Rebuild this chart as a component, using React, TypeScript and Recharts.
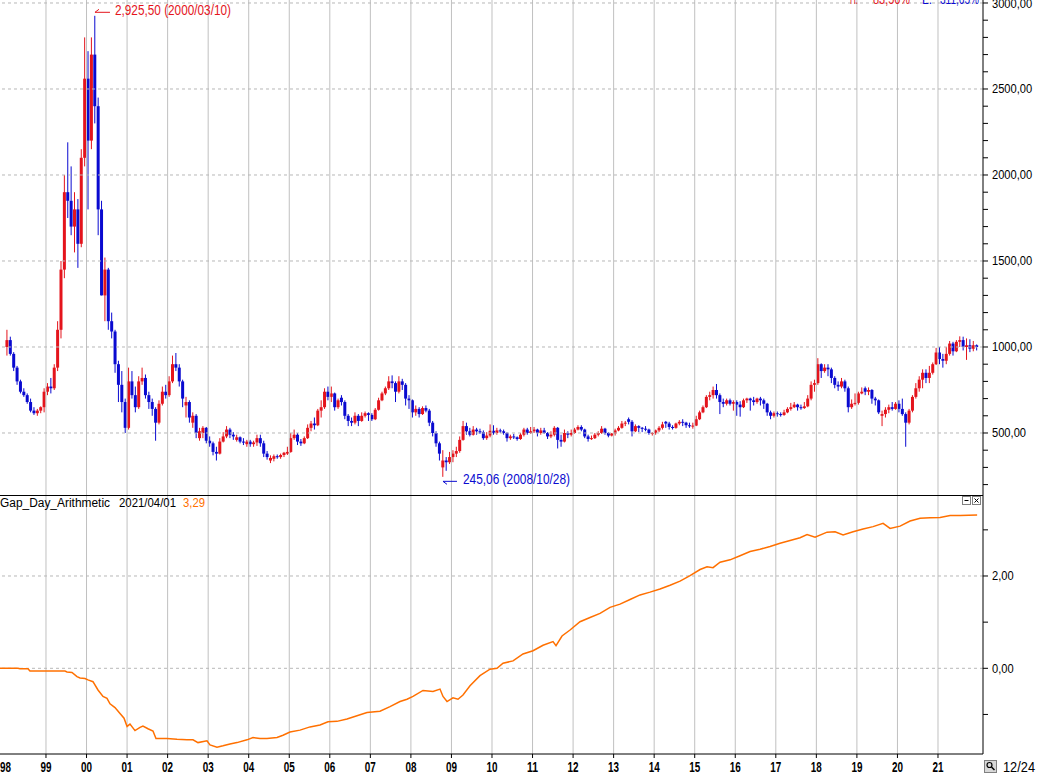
import React from "react";
import {
  ComposedChart,
  Bar,
  XAxis,
  YAxis,
  ReferenceLine,
  ReferenceDot,
  LineChart,
  Line,
} from "recharts";

// monthly candles, Jan 1998 .. Dec 2021
const START_YEAR = 1998;

const opens = [
  1000, 1040, 960, 880, 800, 740, 720, 680, 630, 615, 630, 650,
  740, 770, 760, 880, 1100, 1450, 1900, 1850, 1700, 1800, 1600, 2100,
  2560, 2200, 2700, 2400, 1800, 1300, 1450, 1150, 1090, 900, 780, 680,
  530, 800, 720, 650, 800, 820, 720, 680, 640, 560, 670, 740,
  720, 800, 900, 880, 800, 660, 680, 560, 600, 470, 500, 530,
  455, 440, 390, 380, 450, 480, 520, 490, 460, 475, 450, 435,
  450, 435, 445, 470, 440, 380, 340, 350, 365, 360, 372, 380,
  390, 470, 490, 450, 440, 470, 530, 555, 545, 630, 650, 740,
  710, 730, 650, 705, 680, 600, 570, 560, 600, 570, 600, 615,
  605, 580, 635, 690, 730, 760, 800, 790, 740, 800, 780, 700,
  690, 620, 640, 610, 645, 630, 560, 500, 440, 300, 340, 330,
  360, 380, 395, 460, 540, 510, 490, 520, 510, 505, 470, 485,
  513, 500, 515, 510, 500, 470, 480, 475, 465, 490, 520, 500,
  510, 520, 500, 515, 500, 480, 490, 530, 460, 450, 500, 490,
  500, 520, 535, 520, 480, 465, 470, 490, 500, 525, 500, 485,
  497, 515, 530, 555, 580, 565, 510, 540, 530, 525, 520, 495,
  500, 515, 530, 565, 555, 535, 530, 555, 565, 560, 545, 540,
  543, 580, 620, 650, 710, 720, 750, 720, 680, 670, 690, 670,
  680, 665, 650, 690, 700, 690, 680, 700, 690, 670, 620, 600,
  615, 610, 605, 620, 640, 650, 665, 650, 645, 655, 700, 780,
  790, 900, 860, 880, 870, 820, 780, 770, 800, 760, 650, 670,
  675, 730, 760, 740, 750, 700, 690, 600, 610, 635, 650, 640,
  670, 640, 610, 560, 630, 710, 760, 810, 850, 820, 850, 900,
  968, 930, 920, 960, 1020, 975, 1030, 1040, 1000, 1010, 990, 1010,
];

const highs = [
  1100, 1060, 970, 890, 810, 760, 730, 700, 650, 640, 655, 760,
  790, 820, 900, 1150, 1500, 2000, 2190, 2050, 1900, 1860, 2150, 2800,
  2720, 2800, 2925.5, 2450, 1850, 1520, 1460, 1200, 1100, 920, 860, 700,
  880, 860, 770, 830, 880, 840, 740, 700, 650, 690, 770, 780,
  830, 950, 965, 900, 810, 710, 690, 620, 610, 530, 540, 535,
  480, 450, 420, 470, 505, 540, 530, 505, 490, 480, 470, 460,
  460, 455, 490, 490, 455, 395, 370, 375, 375, 380, 390, 420,
  500, 520, 500, 465, 480, 550, 570, 590, 640, 690, 760, 770,
  770, 735, 700, 720, 690, 610, 590, 620, 610, 620, 625, 620,
  615, 645, 705, 740, 770, 830, 835, 800, 830, 815, 790, 720,
  695, 660, 650, 655, 660, 640, 570, 510, 450, 400, 360, 390,
  400, 420, 480, 570, 560, 530, 540, 530, 525, 515, 505, 550,
  545, 530, 525, 520, 505, 490, 495, 480, 500, 530, 530, 535,
  535, 525, 530, 530, 505, 510, 540, 535, 490, 520, 510, 520,
  530, 545, 545, 525, 490, 485, 500, 510, 540, 530, 505, 500,
  525, 540, 570, 570, 590, 575, 550, 545, 535, 540, 525, 505,
  520, 540, 565, 570, 565, 545, 560, 575, 580, 565, 560, 560,
  600, 630, 660, 720, 740, 770, 785, 730, 700, 700, 700, 690,
  690, 685, 700, 705, 705, 710, 705, 710, 700, 675, 630, 625,
  625, 620, 635, 650, 675, 680, 670, 665, 680, 720, 800, 810,
  935, 905, 900, 900, 880, 830, 800, 820, 810, 770, 695, 730,
  740, 765, 770, 765, 755, 710, 695, 630, 650, 665, 680, 680,
  690, 700, 620, 640, 720, 790, 830, 870, 870, 890, 910, 995,
  1000, 960, 1000, 1035, 1030, 1040, 1062, 1060, 1050, 1045, 1035, 1015,
];

const lows = [
  950, 950, 860, 780, 730, 710, 670, 620, 605, 600, 615, 620,
  720, 730, 750, 860, 1050, 1400, 1750, 1650, 1550, 1460, 1580, 2050,
  1800, 2150, 2300, 1650, 1300, 1150, 1100, 1050, 850, 680, 620, 500,
  520, 700, 620, 640, 780, 700, 640, 600, 455, 550, 660, 700,
  710, 790, 860, 770, 650, 590, 560, 530, 470, 455, 470, 440,
  420, 370, 340, 375, 445, 470, 470, 460, 450, 440, 430, 420,
  420, 420, 425, 420, 360, 345, 325, 335, 350, 350, 360, 372,
  385, 460, 430, 425, 435, 465, 510, 520, 540, 590, 640, 690,
  680, 630, 640, 660, 580, 540, 540, 550, 540, 565, 590, 570,
  570, 575, 630, 685, 720, 750, 760, 680, 730, 750, 660, 640,
  590, 600, 590, 605, 620, 540, 480, 420, 340, 245.06, 280, 320,
  330, 360, 385, 455, 490, 480, 485, 490, 495, 460, 460, 475,
  490, 490, 500, 490, 450, 460, 465, 455, 460, 480, 490, 495,
  500, 480, 490, 495, 465, 470, 480, 410, 420, 445, 470, 480,
  495, 515, 510, 470, 450, 460, 465, 480, 495, 490, 475, 480,
  485, 510, 525, 540, 550, 480, 505, 505, 505, 510, 490, 485,
  490, 505, 520, 530, 520, 520, 525, 545, 540, 530, 530, 525,
  540, 575, 615, 645, 690, 700, 700, 610, 650, 660, 660, 630,
  600, 595, 645, 675, 630, 660, 670, 660, 640, 600, 580, 590,
  595, 595, 600, 615, 630, 645, 630, 635, 640, 650, 690, 740,
  780, 820, 850, 830, 790, 760, 745, 760, 740, 620, 640, 660,
  665, 725, 720, 720, 670, 660, 610, 540, 590, 615, 630, 635,
  620, 600, 420, 550, 620, 700, 740, 760, 790, 790, 840, 895,
  900, 880, 900, 950, 950, 970, 1000, 980, 925, 970, 975, 980,
];

const closes = [
  1040, 960, 880, 800, 740, 720, 680, 630, 615, 630, 650, 740,
  770, 760, 880, 1100, 1450, 1900, 1850, 1700, 1800, 1600, 2100, 2560,
  2200, 2700, 2400, 1800, 1300, 1450, 1150, 1090, 900, 780, 680, 530,
  800, 720, 650, 800, 820, 720, 680, 640, 560, 670, 740, 720,
  800, 900, 880, 800, 700, 680, 590, 600, 500, 510, 530, 455,
  440, 390, 380, 450, 480, 520, 490, 480, 475, 450, 445, 450,
  435, 445, 470, 440, 380, 360, 355, 365, 360, 372, 385, 390,
  470, 490, 450, 440, 470, 530, 555, 545, 630, 650, 740, 710,
  730, 650, 690, 680, 600, 570, 560, 600, 570, 600, 615, 605,
  580, 635, 690, 730, 760, 800, 790, 740, 800, 780, 700, 690,
  620, 640, 610, 645, 630, 560, 500, 440, 380, 340, 330, 360,
  380, 395, 460, 540, 510, 490, 520, 510, 505, 470, 485, 513,
  500, 515, 510, 500, 470, 480, 475, 465, 490, 520, 500, 510,
  520, 500, 515, 500, 480, 490, 530, 460, 450, 500, 490, 500,
  520, 535, 520, 480, 465, 470, 490, 500, 525, 500, 485, 497,
  515, 530, 555, 560, 565, 510, 540, 530, 525, 520, 500, 500,
  515, 530, 550, 555, 535, 530, 555, 565, 560, 545, 540, 543,
  580, 620, 650, 710, 720, 750, 720, 680, 670, 690, 670, 680,
  665, 650, 690, 700, 690, 680, 700, 690, 670, 620, 600, 615,
  610, 605, 620, 640, 650, 665, 650, 645, 655, 700, 780, 790,
  900, 860, 880, 870, 820, 780, 770, 800, 760, 650, 670, 675,
  730, 740, 740, 750, 700, 690, 620, 610, 635, 650, 640, 670,
  640, 610, 560, 630, 710, 760, 810, 850, 820, 850, 900, 968,
  930, 920, 960, 1020, 975, 1030, 1040, 1000, 1010, 990, 1010, 1000,
];

// Gap_Day_Arithmetic indicator (decimal year, value)
const gapDates = [
  1997.866, 1998.31, 1998.359, 1998.556, 1998.605, 1998.975, 1999.469, 1999.518, 1999.641, 1999.765,
  1999.839, 1999.962, 2000.036, 2000.159, 2000.283, 2000.406, 2000.505, 2000.579, 2000.702, 2000.826,
  2000.925, 2001.0, 2001.072, 2001.195, 2001.319, 2001.392, 2001.516, 2001.639, 2001.713, 2001.984,
  2002.231, 2002.478, 2002.626, 2002.749, 2002.971, 2003.045, 2003.218, 2003.366, 2003.538, 2003.711,
  2003.958, 2004.106, 2004.278, 2004.451, 2004.698, 2004.846, 2005.018, 2005.265, 2005.512, 2005.759,
  2005.955, 2006.177, 2006.424, 2006.671, 2006.918, 2007.238, 2007.485, 2007.732, 2007.904, 2008.052,
  2008.299, 2008.545, 2008.718, 2008.792, 2008.891, 2009.038, 2009.162, 2009.285, 2009.458, 2009.704,
  2009.951, 2010.124, 2010.272, 2010.519, 2010.765, 2011.012, 2011.259, 2011.505, 2011.579, 2011.727,
  2011.925, 2012.171, 2012.418, 2012.665, 2012.911, 2013.158, 2013.405, 2013.652, 2013.898, 2014.145,
  2014.392, 2014.638, 2014.885, 2015.132, 2015.304, 2015.452, 2015.625, 2015.872, 2016.118, 2016.365,
  2016.612, 2016.858, 2017.105, 2017.352, 2017.598, 2017.771, 2017.968, 2018.264, 2018.461, 2018.659,
  2018.906, 2019.152, 2019.399, 2019.646, 2019.818, 2020.065, 2020.312, 2020.559, 2020.805, 2021.052,
  2021.299, 2021.546, 2021.965,
];

const gapValues = [
  0, 0, -0.01, -0.01, -0.06, -0.06, -0.06, -0.08, -0.09, -0.18,
  -0.21, -0.22, -0.25, -0.29, -0.47, -0.61, -0.65, -0.77, -0.85, -0.98,
  -1.08, -1.26, -1.21, -1.35, -1.28, -1.25, -1.31, -1.36, -1.52, -1.52,
  -1.54, -1.55, -1.55, -1.61, -1.57, -1.66, -1.71, -1.68, -1.64, -1.61,
  -1.55, -1.5, -1.52, -1.52, -1.5, -1.45, -1.38, -1.34, -1.27, -1.23,
  -1.16, -1.15, -1.1, -1.03, -0.96, -0.93, -0.83, -0.72, -0.67, -0.61,
  -0.48, -0.5, -0.45, -0.61, -0.72, -0.64, -0.67, -0.58, -0.38, -0.16,
  -0.02, 0.0, 0.11, 0.16, 0.31, 0.38, 0.5, 0.58, 0.49, 0.7,
  0.83, 1.01, 1.1, 1.19, 1.32, 1.39, 1.49, 1.59, 1.65, 1.72,
  1.8, 1.89, 2.01, 2.14, 2.2, 2.18, 2.3, 2.35, 2.44, 2.53,
  2.58, 2.64, 2.71, 2.77, 2.83, 2.9, 2.84, 2.95, 2.96, 2.89,
  2.96, 3.02, 3.07, 3.14, 3.03, 3.08, 3.19, 3.25, 3.26, 3.27,
  3.31, 3.31, 3.32,
];

const yearTicks = [
  1998, 1999, 2000, 2001, 2002, 2003, 2004, 2005, 2006, 2007, 2008, 2009,
  2010, 2011, 2012, 2013, 2014, 2015, 2016, 2017, 2018, 2019, 2020, 2021,
];
const priceTicks = [
  200, 300, 400, 500, 600, 700, 800, 900, 1000, 1100, 1200, 1300, 1400, 1500,
  1600, 1700, 1800, 1900, 2000, 2100, 2200, 2300, 2400, 2500, 2600, 2700, 2800, 2900, 3000,
];
const priceLabels = [500, 1000, 1500, 2000, 2500, 3000];
const gapTicks = [-1, 0, 1, 2, 3];
const gapLabels = [0, 2];

const RED = "#e4141c";
const BLUE = "#0a0ad0";
const ORANGE = "#ff7000";
const GRID = "#c0c0c0";
const DASH = "#b8b8b8";
const FONT = "'Liberation Sans', Arial, sans-serif";

const X_DOMAIN: [number, number] = [1997.866, 2022.11];

const candles = opens.map((o, i) => ({
  t: START_YEAR + (i + 0.5) / 12,
  o,
  h: highs[i],
  l: lows[i],
  c: closes[i],
  range: [lows[i], highs[i]],
}));

const gapData = gapDates.map((t, i) => ({ t, v: gapValues[i] }));

let peakIdx = 0;
let lowIdx = 0;
highs.forEach((h, i) => {
  if (h > highs[peakIdx]) peakIdx = i;
});
lows.forEach((l, i) => {
  if (l < lows[lowIdx]) lowIdx = i;
});

const fmt = (v: number) => v.toFixed(2).replace(".", ",");
const labelLen = (s: string) => {
  let w = 0;
  for (const ch of s) w += ch === "," ? 3 : 6.2;
  return w;
};

function Candle(props: any) {
  const { x, y, width, height } = props;
  const p = props.payload || props;
  const top = Math.min(y, y + height);
  const span = Math.abs(height);
  const toPx = (v: number) => (p.h === p.l ? top : top + ((p.h - v) / (p.h - p.l)) * span);
  const color = p.c >= p.o ? RED : BLUE;
  const cx = x + width / 2;
  const b1 = toPx(Math.max(p.o, p.c));
  const b2 = toPx(Math.min(p.o, p.c));
  return (
    <g>
      <line x1={cx} x2={cx} y1={top} y2={top + span} stroke={color} strokeWidth={1} />
      <rect x={x} y={b1} width={width} height={Math.max(1, b2 - b1)} fill={color} />
    </g>
  );
}

function PriceTick(props: any) {
  const { x, y, payload } = props;
  if (!priceLabels.includes(payload.value)) return <g />;
  const s = fmt(payload.value);
  return (
    <text x={x} y={y} dy={4.5} fontFamily={FONT} fontSize={12.5} fill="#000"
      textLength={labelLen(s)} lengthAdjust="spacingAndGlyphs">{s}</text>
  );
}

function GapTick(props: any) {
  const { x, y, payload } = props;
  if (!gapLabels.includes(payload.value)) return <g />;
  const s = fmt(payload.value);
  return (
    <text x={x} y={y} dy={4.5} fontFamily={FONT} fontSize={12.5} fill="#000"
      textLength={labelLen(s)} lengthAdjust="spacingAndGlyphs">{s}</text>
  );
}

function YearTick(props: any) {
  const { x, y, payload } = props;
  const yr = payload.value as number;
  const s = String(yr % 100).padStart(2, "0");
  return (
    <g>
      {yr > 1998 && <line x1={x} x2={x} y1={y - 4} y2={y} stroke="#000" />}
      <text x={x} y={y + 14} textAnchor="middle" fontFamily={FONT} fontSize={15}
        fontWeight="bold" fill="#000" textLength={11} lengthAdjust="spacingAndGlyphs">{s}</text>
    </g>
  );
}

function PeakMark(props: any) {
  const { cx, cy } = props;
  const s = `2,925,50 (2000/03/10)`;
  return (
    <g>
      <line x1={cx} x2={cx + 15} y1={cy - 3.5} y2={cy - 3.5} stroke={RED} />
      <line x1={cx} x2={cx + 4} y1={cy - 3.5} y2={cy - 6.5} stroke={RED} />
      <text x={cx + 20} y={cy - 0.5} fontFamily={FONT} fontSize={14} fill={RED}
        textLength={116} lengthAdjust="spacingAndGlyphs">{s}</text>
    </g>
  );
}

function LowMark(props: any) {
  const { cx, cy } = props;
  const s = `245,06 (2008/10/28)`;
  return (
    <g>
      <line x1={cx} x2={cx + 14} y1={cy + 4.5} y2={cy + 4.5} stroke={BLUE} />
      <line x1={cx} x2={cx + 4} y1={cy + 4.5} y2={cy + 7.5} stroke={BLUE} />
      <text x={cx + 20} y={cy + 7.5} fontFamily={FONT} fontSize={14} fill={BLUE}
        textLength={107} lengthAdjust="spacingAndGlyphs">{s}</text>
    </g>
  );
}

export default function App() {
  return (
    <div style={{ position: "relative", width: 1039, height: 774, background: "#fff", overflow: "hidden" }}>
      <style>{"body{margin:0}"}</style>
      <ComposedChart width={1039} height={495} data={candles} margin={{ top: 0, right: 0, bottom: 0, left: 0 }}>
        <XAxis dataKey="t" type="number" domain={X_DOMAIN} allowDataOverflow hide />
        <YAxis
          orientation="right"
          width={56}
          domain={[139.5, 3017.4]}
          allowDataOverflow
          ticks={priceTicks}
          interval={0}
          tickSize={5}
          tickMargin={4}
          tick={PriceTick}
          axisLine={{ stroke: "#000" }}
          tickLine={{ stroke: "#000" }}
        />
        {yearTicks.slice(1).map((yr) => (
          <ReferenceLine key={"v" + yr} x={yr} stroke={GRID} strokeWidth={1} />
        ))}
        {priceLabels.map((v) => (
          <ReferenceLine key={"h" + v} y={v} stroke={DASH} strokeDasharray="3 3" />
        ))}
        <Bar dataKey="range" barSize={3} shape={Candle} isAnimationActive={false} />
        <ReferenceDot x={candles[peakIdx].t} y={highs[peakIdx]} r={1} shape={PeakMark} />
        <ReferenceDot x={candles[lowIdx].t} y={lows[lowIdx]} r={1} shape={LowMark} />
      </ComposedChart>
      <LineChart width={1039} height={279} data={gapData} margin={{ top: 0, right: 0, bottom: 0, left: 0 }}>
        <XAxis
          dataKey="t"
          type="number"
          domain={X_DOMAIN}
          allowDataOverflow
          ticks={yearTicks}
          interval={0}
          height={20}
          tickSize={4}
          tickMargin={0}
          tickLine={false}
          tick={YearTick}
          axisLine={{ stroke: "#000" }}
        />
        <YAxis
          orientation="right"
          width={56}
          domain={[-1.857, 3.755]}
          allowDataOverflow
          ticks={gapTicks}
          interval={0}
          tickSize={5}
          tickMargin={4}
          tick={GapTick}
          axisLine={{ stroke: "#000" }}
          tickLine={{ stroke: "#000" }}
        />
        {yearTicks.slice(1).map((yr) => (
          <ReferenceLine key={"gv" + yr} x={yr} stroke={GRID} strokeWidth={1} />
        ))}
        {gapLabels.map((v) => (
          <ReferenceLine key={"gh" + v} y={v} stroke={DASH} strokeDasharray="3 3" />
        ))}
        <Line type="linear" dataKey="v" stroke={ORANGE} strokeWidth={1.5} dot={false} isAnimationActive={false} />
      </LineChart>
      <svg width={1039} height={774} style={{ position: "absolute", left: 0, top: 0, pointerEvents: "none" }}>
        <line x1={0} x2={983} y1={495.5} y2={495.5} stroke="#000" />
        <text x={850} y={4} fontFamily={FONT} fontSize={14} fill={RED} textLength={8} lengthAdjust="spacingAndGlyphs">H:</text>
        <text x={873} y={4} fontFamily={FONT} fontSize={14} fill={RED} textLength={37} lengthAdjust="spacingAndGlyphs">83,56%</text>
        <text x={922} y={4} fontFamily={FONT} fontSize={14} fill={BLUE} textLength={10} lengthAdjust="spacingAndGlyphs">L:</text>
        <text x={940} y={4} fontFamily={FONT} fontSize={14} fill={BLUE} textLength={39} lengthAdjust="spacingAndGlyphs">311,65%</text>
        <text x={0} y={507} fontFamily={FONT} fontSize={12} fill="#000" textLength={110} lengthAdjust="spacingAndGlyphs">Gap_Day_Arithmetic</text>
        <text x={119} y={507} fontFamily={FONT} fontSize={12} fill="#000" textLength={57} lengthAdjust="spacingAndGlyphs">2021/04/01</text>
        <text x={183} y={507} fontFamily={FONT} fontSize={12} fill={ORANGE} textLength={22} lengthAdjust="spacingAndGlyphs">3,29</text>
        <rect x={962.5} y={496.5} width={8} height={8} fill="#fff" stroke="#808080" />
        <line x1={964.5} x2={968.5} y1={500.5} y2={500.5} stroke="#000" />
        <rect x={972.5} y={496.5} width={8} height={8} fill="#fff" stroke="#808080" />
        <line x1={974.5} x2={978.5} y1={498.5} y2={502.5} stroke="#000" />
        <line x1={978.5} x2={974.5} y1={498.5} y2={502.5} stroke="#000" />
        <rect x={984.5} y={760.5} width={12} height={12} fill="#d8d8d8" stroke="#808080" />
        <circle cx={989.5} cy={765} r={2.5} fill="none" stroke="#000" strokeWidth={1.2} />
        <line x1={991.5} x2={994.5} y1={767} y2={770} stroke="#000" strokeWidth={1.5} />
        <text x={1003} y={772} fontFamily={FONT} fontSize={14} fill="#000" textLength={32} lengthAdjust="spacingAndGlyphs">12/24</text>
      </svg>
    </div>
  );
}
